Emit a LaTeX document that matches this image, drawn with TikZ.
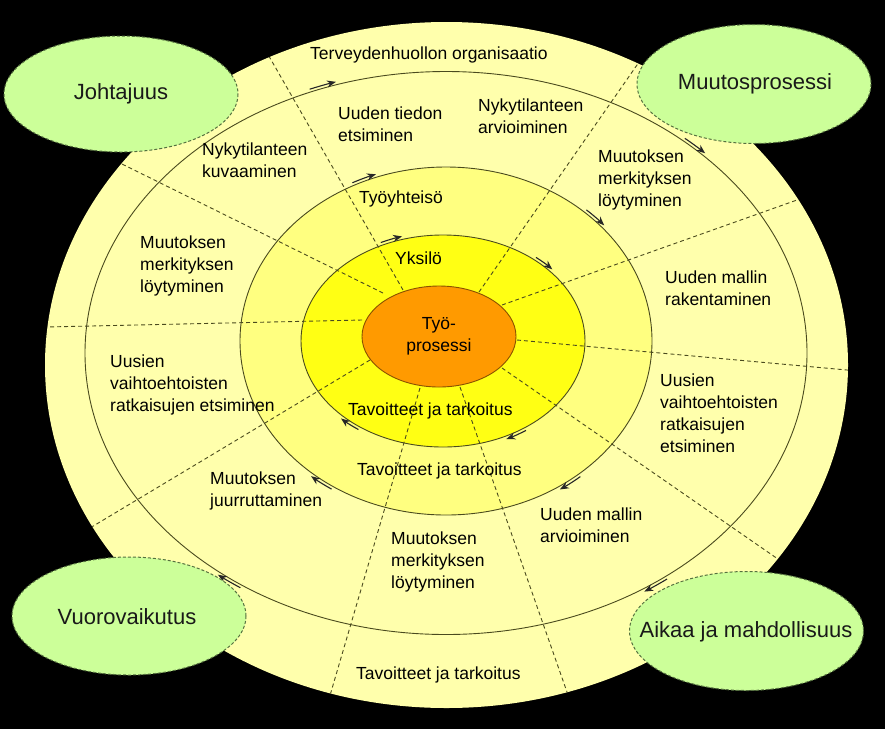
\documentclass[tikz,border=0pt]{standalone}
\usepackage{fontspec}
\setmainfont{Liberation Sans}
\usetikzlibrary{arrows.meta,calc,shapes.geometric}
\definecolor{outerY}{HTML}{FFFFAC}
\definecolor{midY}{HTML}{FFFF80}
\definecolor{innerY}{HTML}{FFFF14}
\definecolor{coreO}{HTML}{FF9A00}
\definecolor{coreL}{HTML}{8A5200}
\definecolor{greenF}{HTML}{CCFF99}
\definecolor{greenL}{HTML}{55703F}
\definecolor{lineC}{HTML}{4A4A1E}
\newcommand{\ringarr}[6]{\draw[ringarrow] (#1,#2) ++(-#5:#3 and #4) arc[start angle=-#5, end angle=-#6, x radius=#3, y radius=#4];}
\begin{document}
\begin{tikzpicture}[x=1pt,y=-1pt,
  ring/.style={draw=lineC, line width=0.9pt},
  divider/.style={draw=lineC, line width=0.9pt, dash pattern=on 4pt off 3pt},
  ringarrow/.style={draw=black!85, line width=1.1pt, -{Stealth[length=9pt,width=7pt]}},
  lbl/.style={font=\fontsize{17.5}{22}\selectfont, align=left, anchor=west, inner sep=0pt, text=black},
  greenbox/.style={draw=greenL, fill=greenF, line width=1pt, dash pattern=on 3pt off 2pt},
  greentext/.style={inner sep=0pt, font=\fontsize{22}{26}\selectfont, text=black!90}
]
\fill[black] (0,0) rectangle (885,729);
\useasboundingbox (0,0) rectangle (885,729);

% rings
\fill[outerY] (446.5,365) ellipse [x radius=401.5, y radius=343];
\draw[ring] (446,353) ellipse [x radius=361, y radius=281.5];
\filldraw[ring, fill=midY] (446,341) ellipse [x radius=206, y radius=174];
\filldraw[ring, fill=innerY] (443,341) ellipse [x radius=142, y radius=106];

% divider end points
\coordinate (i1) at (403,290);  \coordinate (o1) at (270,58);
\coordinate (i2) at (479,292);  \coordinate (o2) at (637,65);
\coordinate (i3) at (502,305);  \coordinate (o3) at (797,200);
\coordinate (i4) at (517,340);  \coordinate (o4) at (847,370);
\coordinate (i5) at (502,368);  \coordinate (o5) at (775,557);
\coordinate (i6) at (460,387);  \coordinate (o6) at (567,692);
\coordinate (i7) at (420,388);  \coordinate (o7) at (331,692);
\coordinate (i8) at (370,360);  \coordinate (o8) at (95,525);
\coordinate (i9) at (362,320);  \coordinate (o9) at (46,327);
\coordinate (i10) at (383,293); \coordinate (o10) at (124,165);

\begin{scope}
\clip (446.5,365) ellipse [x radius=401.5, y radius=343];
\foreach \k in {1,...,10}{
  \draw[divider] (i\k) -- ($(i\k)!1.06!(o\k)$);
}
\end{scope}

% core
\node[ellipse, draw=coreL, fill=coreO, line width=0.9pt, minimum width=154pt, minimum height=101pt,
      inner sep=0pt, align=center, font=\fontsize{17.5}{22}\selectfont, text=black] (core) at (439,336.5) {Työ-\\prosessi};

% direction arrows
\ringarr{446}{353}{364}{284.5}{112}{107.6}
\ringarr{446}{353}{364}{284.5}{49}{44.6}
\ringarr{446}{353}{364}{284.5}{307.4}{303}
\ringarr{446}{353}{364}{284.5}{235.6}{231.2}
\ringarr{446}{341}{209}{177}{116.6}{109.6}
\ringarr{446}{341}{209}{177}{47.8}{40.8}
\ringarr{446}{341}{209}{177}{310}{303}
\ringarr{446}{341}{209}{177}{236.8}{229.8}
\ringarr{443}{341}{145}{109}{115.4}{106.4}
\ringarr{443}{341}{145}{109}{50.1}{41.1}
\ringarr{443}{341}{145}{109}{304.9}{295.9}
\ringarr{443}{341}{145}{109}{234.3}{225.3}

% labels
\node[lbl] (t1) at (310,55) {Terveydenhuollon organisaatio};
\node[lbl] (t2) at (338,124) {Uuden tiedon\\etsiminen};
\node[lbl] (t3) at (478,116) {Nykytilanteen\\arvioiminen};
\node[lbl] (t4) at (202,160) {Nykytilanteen\\kuvaaminen};
\node[lbl] (t5) at (598,180) {Muutoksen\\merkityksen\\löytyminen};
\node[lbl] (t6) at (140,266) {Muutoksen\\merkityksen\\löytyminen};
\node[lbl] (t7) at (359,199) {Työyhteisö};
\node[lbl] (t8) at (395,258) {Yksilö};
\node[lbl] (t9) at (665,288) {Uuden mallin\\rakentaminen};
\node[lbl] (t10) at (110,385) {Uusien\\vaihtoehtoisten\\ratkaisujen etsiminen};
\node[lbl] (t11) at (660,413) {Uusien\\vaihtoehtoisten\\ratkaisujen\\etsiminen};
\node[lbl] (t12) at (348,411) {Tavoitteet ja tarkoitus};
\node[lbl] (t13) at (357,471) {Tavoitteet ja tarkoitus};
\node[lbl] (t14) at (210,491) {Muutoksen\\juurruttaminen};
\node[lbl] (t15) at (540,525) {Uuden mallin\\arvioiminen};
\node[lbl] (t16) at (391,562) {Muutoksen\\merkityksen\\löytyminen};
\node[lbl] (t17) at (356,675) {Tavoitteet ja tarkoitus};

% green ellipses
\draw[greenbox] (121,94) ellipse [x radius=117, y radius=58];
\node[greentext] (g1) at (121,94) {Johtajuus};
\draw[greenbox] (754,84) ellipse [x radius=117, y radius=59.5];
\node[greentext] (g2) at (755,84) {Muutosprosessi};
\draw[greenbox] (129,616) ellipse [x radius=117, y radius=59];
\node[greentext] (g3) at (127,617) {Vuorovaikutus};
\draw[greenbox] (746.5,631) ellipse [x radius=117, y radius=59.5];
\node[greentext] (g4) at (746,632) {Aikaa ja mahdollisuus};
\end{tikzpicture}
\end{document}
